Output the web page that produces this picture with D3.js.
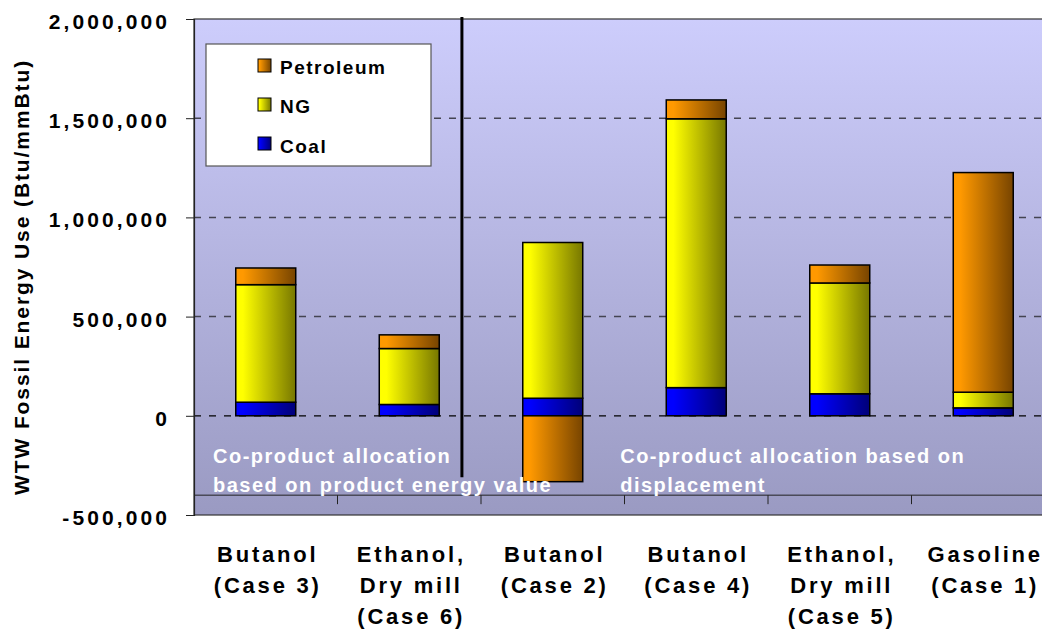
<!DOCTYPE html>
<html>
<head>
<meta charset="utf-8">
<script src="https://cdn.jsdelivr.net/npm/d3@7"></script>
<style>
  body { margin: 0; background: #fff; }
  #chart { width: 1042px; height: 630px; }
  text { font-family: "Liberation Sans", Arial, sans-serif; font-weight: bold; }
</style>
</head>
<body>
<div id="chart"></div>
<script>
//Datos
const categories = ['Butanol (Case 3)', 'Ethanol, Dry mill (Case 6)', 'Butanol (Case 2)', 'Butanol (Case 4)', 'Ethanol, Dry mill (Case 5)', 'Gasoline (Case 1)'];
const categoryLines = [['Butanol', '(Case 3)'], ['Ethanol,', 'Dry mill', '(Case 6)'], ['Butanol', '(Case 2)'], ['Butanol', '(Case 4)'], ['Ethanol,', 'Dry mill', '(Case 5)'], ['Gasoline', '(Case 1)']];
const coal = [68500, 57000, 88500, 142000, 111000, 40000];
const ng = [592500, 282000, 785000, 1355000, 558500, 79000];
const petroleum = [84000, 69000, -332000, 95000, 90500, 1107000];
const seriesNames = ['Coal', 'NG', 'Petroleum'];
const yTicks = [-500000, 0, 500000, 1000000, 1500000, 2000000];
const gridValues = [500000, 1000000, 1500000];
const categoryAxisValue = -400000;
const notes = [['Co-product allocation', 'based on product energy value'], ['Co-product allocation based on', 'displacement']];

//Colores
const COLORS = {
    Coal: ['#0000ff', '#000078'],
    NG: ['#ffff00', '#777700'],
    Petroleum: ['#ff9900', '#774400']
};

let margin = {top: 19, left: 194, bottom: 115},
    width = 1042, height = 630,
    plotRight = 1055,
    plotBottom = height - margin.bottom;

let svg = d3.select('#chart').append('svg')
    .attr('width', width)
    .attr('height', height);

let defs = svg.append('defs');

let bg = defs.append('linearGradient').attr('id', 'bg').attr('x1', 0).attr('y1', 0).attr('x2', 0).attr('y2', 1);
bg.append('stop').attr('offset', 0).attr('stop-color', '#cdcdfc');
bg.append('stop').attr('offset', 1).attr('stop-color', '#9a9ac2');

seriesNames.forEach(function(s) {
    let g = defs.append('linearGradient').attr('id', 'g-' + s).attr('x1', 0).attr('y1', 0).attr('x2', 1).attr('y2', 0);
    g.append('stop').attr('offset', 0).attr('stop-color', COLORS[s][0]);
    g.append('stop').attr('offset', 0.12).attr('stop-color', COLORS[s][0]);
    g.append('stop').attr('offset', 1).attr('stop-color', COLORS[s][1]);
});

//Escalas
let x = d3.scaleBand()
    .domain(categories)
    .range([margin.left, plotRight])
    .padding(0);

let y = d3.scaleLinear()
    .domain([-500000, 2000000])
    .range([plotBottom, margin.top]);

//Fondo
svg.append('rect')
    .attr('x', margin.left).attr('y', margin.top)
    .attr('width', plotRight - margin.left)
    .attr('height', plotBottom - margin.top)
    .attr('fill', 'url(#bg)')
    .attr('stroke', '#333')
    .attr('stroke-width', 1.2);

//Rejilla
svg.append('g').selectAll('line')
    .data(gridValues)
    .enter().append('line')
    .attr('x1', margin.left).attr('x2', plotRight)
    .attr('y1', function(d) { return y(d); })
    .attr('y2', function(d) { return y(d); })
    .attr('stroke', '#444452')
    .attr('stroke-width', 1.5)
    .attr('stroke-dasharray', '7,8');

svg.append('line')
    .attr('x1', margin.left).attr('x2', plotRight)
    .attr('y1', y(0)).attr('y2', y(0))
    .attr('stroke', '#000')
    .attr('stroke-width', 1.2)
    .attr('stroke-dasharray', '7,8');

//Eje de categorias
let catY = y(categoryAxisValue);
svg.append('line')
    .attr('x1', margin.left).attr('x2', plotRight)
    .attr('y1', catY).attr('y2', catY)
    .attr('stroke', '#222').attr('stroke-width', 1);

svg.append('g').selectAll('line')
    .data(categories.slice(1))
    .enter().append('line')
    .attr('x1', function(d) { return x(d); })
    .attr('x2', function(d) { return x(d); })
    .attr('y1', catY).attr('y2', catY + 9)
    .attr('stroke', '#222').attr('stroke-width', 1);

//Barras
let data = categories.map(function(c, i) {
    return {cat: c, Coal: coal[i], NG: ng[i], Petroleum: petroleum[i]};
});

let stacked = d3.stack()
    .keys(seriesNames)
    .offset(d3.stackOffsetDiverging)(data);

let barW = x.bandwidth() * 0.418;

svg.append('g')
    .selectAll('g')
    .data(stacked)
    .enter().append('g')
    .attr('fill', function(d) { return 'url(#g-' + d.key + ')'; })
    .selectAll('rect')
    .data(function(d) { return d; })
    .enter().append('rect')
    .attr('x', function(d) { return x(d.data.cat) + (x.bandwidth() - barW) / 2; })
    .attr('width', barW)
    .attr('y', function(d) { return y(Math.max(d[0], d[1])); })
    .attr('height', function(d) { return Math.abs(y(d[0]) - y(d[1])); })
    .attr('stroke', '#000')
    .attr('stroke-width', 1.5);

//Separador vertical
let divX = x(categories[2]) - x.step() * 0.133;
svg.append('line')
    .attr('x1', divX).attr('x2', divX)
    .attr('y1', margin.top - 2).attr('y2', y(-310000))
    .attr('stroke', '#000')
    .attr('stroke-width', 3);

//Notas
let noteX = [margin.left + 19, x(categories[2]) + x.step() * 0.97];
notes.forEach(function(lines, i) {
    let t = svg.append('text')
        .attr('fill', '#fff')
        .attr('font-size', '20px')
        .attr('letter-spacing', '1.5px');
    lines.forEach(function(l, j) {
        t.append('tspan')
            .attr('x', noteX[i])
            .attr('y', 463 + j * 29)
            .text(l);
    });
});

//Eje Y
let fmt = d3.format(',');
let yAxis = d3.axisLeft(y)
    .tickValues(yTicks)
    .tickSize(8)
    .tickPadding(16)
    .tickFormat(function(d) { return fmt(d).replace('\u2212', '-'); });

let yg = svg.append('g')
    .attr('transform', 'translate(' + margin.left + ',0)')
    .call(yAxis);

yg.select('.domain').attr('stroke', '#222').attr('stroke-width', 1.2);
yg.selectAll('.tick line').attr('stroke', '#222');
yg.selectAll('.tick text')
    .attr('font-size', '21px')
    .attr('letter-spacing', '3.1px')
    .attr('fill', '#000')
    .attr('font-family', '"Liberation Sans", Arial, sans-serif')
    .attr('font-weight', 'bold')
    .attr('dy', '0.45em');

svg.append('text')
    .attr('transform', 'translate(29,' + ((margin.top + plotBottom) / 2 + 10) + ') rotate(-90)')
    .attr('text-anchor', 'middle')
    .attr('font-size', '21px')
    .attr('letter-spacing', '1.9px')
    .text('WTW Fossil Energy Use (Btu/mmBtu)');

//Etiquetas de categorias
categories.forEach(function(c, i) {
    let t = svg.append('text')
        .attr('text-anchor', 'middle')
        .attr('font-size', '22px')
        .attr('letter-spacing', '2.8px');
    categoryLines[i].forEach(function(l, j) {
        t.append('tspan')
            .attr('x', x(c) + x.bandwidth() / 2 + 2)
            .attr('y', 562 + j * 31)
            .text(l);
    });
});

//Leyenda
let legend = svg.append('g').attr('transform', 'translate(206,44)');
legend.append('rect')
    .attr('width', 225).attr('height', 122)
    .attr('fill', '#fff')
    .attr('stroke', '#555')
    .attr('stroke-width', 1.2);

let legendItems = seriesNames.slice().reverse();
legendItems.forEach(function(s, i) {
    legend.append('rect')
        .attr('x', 52).attr('y', 15 + i * 39)
        .attr('width', 13).attr('height', 13)
        .attr('fill', 'url(#g-' + s + ')')
        .attr('stroke', '#000').attr('stroke-width', 1);
    legend.append('text')
        .attr('x', 74).attr('y', 29.5 + i * 39.5)
        .attr('font-size', '19px')
        .attr('letter-spacing', '1.5px')
        .text(s);
});
</script>
</body>
</html>
